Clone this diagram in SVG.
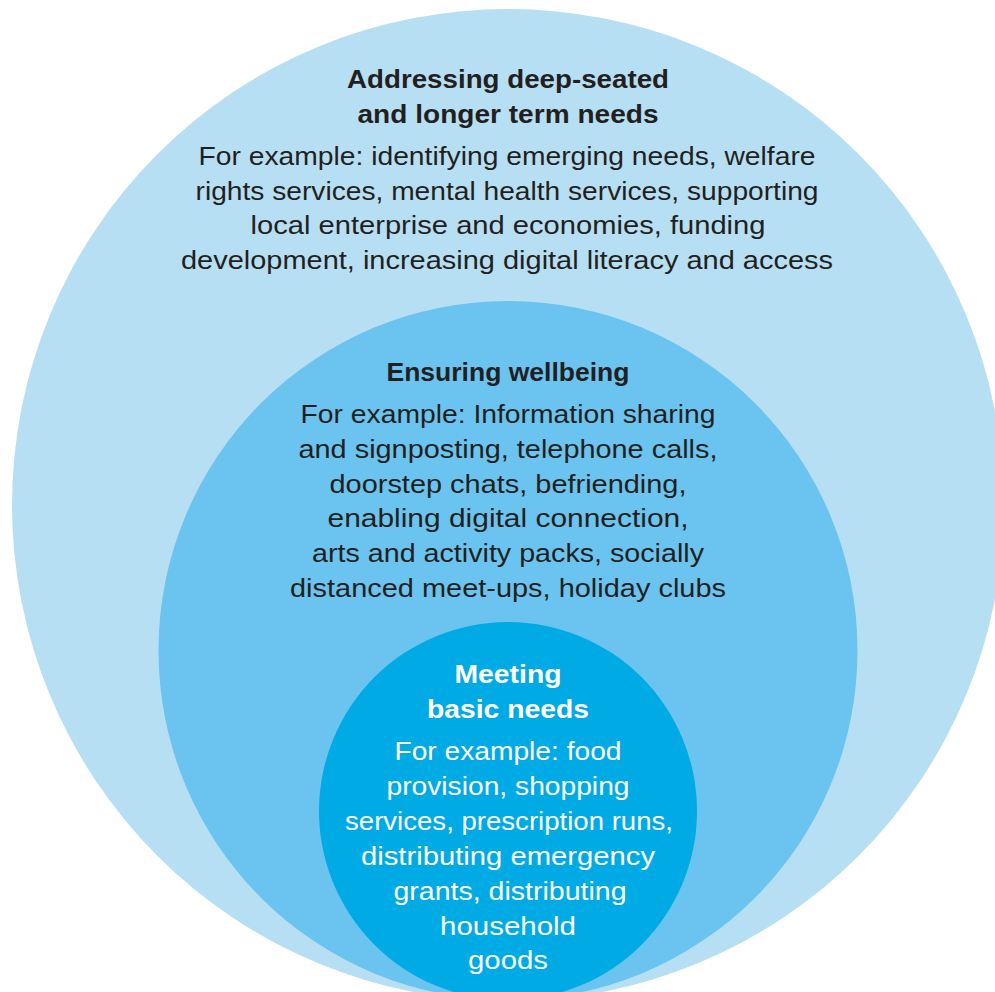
<svg xmlns="http://www.w3.org/2000/svg" width="995" height="992" viewBox="0 0 995 992">
  <style>
    .ring-outer { fill: #b7dff4; }
    .ring-mid { fill: #6ac4ef; }
    .ring-inner { fill: #00aae5; }
    text { font-family: "Liberation Sans", Arial, sans-serif; text-anchor: middle; }
    .title { font-size: 26px; font-weight: bold; }
    .body { font-size: 25px; }
    .dark { fill: #231f20; }
    .light { fill: #ffffff; }
  </style>
  <rect width="995" height="992" fill="#ffffff"/>

  <!-- Outer ring: longer term needs -->
  <g id="node-longer-term">
    <circle class="ring-outer" cx="508" cy="505" r="496"/>
    <text class="title dark" x="508" y="88" textLength="322" lengthAdjust="spacingAndGlyphs">Addressing deep-seated</text>
    <text class="title dark" x="508" y="123" textLength="301" lengthAdjust="spacingAndGlyphs">and longer term needs</text>
    <text class="body dark" x="507" y="165" textLength="617" lengthAdjust="spacingAndGlyphs">For example: identifying emerging needs, welfare</text>
    <text class="body dark" x="507" y="199.5" textLength="623" lengthAdjust="spacingAndGlyphs">rights services, mental health services, supporting</text>
    <text class="body dark" x="508" y="234" textLength="515" lengthAdjust="spacingAndGlyphs">local enterprise and economies, funding</text>
    <text class="body dark" x="507" y="268.5" textLength="652" lengthAdjust="spacingAndGlyphs">development, increasing digital literacy and access</text>
  </g>

  <!-- Middle ring: wellbeing -->
  <g id="node-wellbeing">
    <circle class="ring-mid" cx="508" cy="650.5" r="349.5"/>
    <text class="title dark" x="508" y="380.5" textLength="243" lengthAdjust="spacingAndGlyphs">Ensuring wellbeing</text>
    <text class="body dark" x="508" y="423" textLength="415" lengthAdjust="spacingAndGlyphs">For example: Information sharing</text>
    <text class="body dark" x="508" y="458" textLength="419" lengthAdjust="spacingAndGlyphs">and signposting, telephone calls,</text>
    <text class="body dark" x="508" y="492.5" textLength="357" lengthAdjust="spacingAndGlyphs">doorstep chats, befriending,</text>
    <text class="body dark" x="508" y="527" textLength="361" lengthAdjust="spacingAndGlyphs">enabling digital connection,</text>
    <text class="body dark" x="508" y="562" textLength="392" lengthAdjust="spacingAndGlyphs">arts and activity packs, socially</text>
    <text class="body dark" x="508" y="596.5" textLength="436" lengthAdjust="spacingAndGlyphs">distanced meet-ups, holiday clubs</text>
  </g>

  <!-- Inner ring: basic needs -->
  <g id="node-basic-needs">
    <circle class="ring-inner" cx="508" cy="811" r="189"/>
    <text class="title light" x="508" y="683" textLength="107" lengthAdjust="spacingAndGlyphs">Meeting</text>
    <text class="title light" x="508" y="718" textLength="162" lengthAdjust="spacingAndGlyphs">basic needs</text>
    <text class="body light" x="508" y="760" textLength="227" lengthAdjust="spacingAndGlyphs">For example: food</text>
    <text class="body light" x="508" y="795" textLength="243" lengthAdjust="spacingAndGlyphs">provision, shopping</text>
    <text class="body light" x="509" y="830" textLength="328" lengthAdjust="spacingAndGlyphs">services, prescription runs,</text>
    <text class="body light" x="508" y="865" textLength="294" lengthAdjust="spacingAndGlyphs">distributing emergency</text>
    <text class="body light" x="510" y="900" textLength="233" lengthAdjust="spacingAndGlyphs">grants, distributing</text>
    <text class="body light" x="508" y="935" textLength="136" lengthAdjust="spacingAndGlyphs">household</text>
    <text class="body light" x="508" y="969" textLength="80" lengthAdjust="spacingAndGlyphs">goods</text>
  </g>

  <!-- No connectors in this diagram -->
  <g id="connectors"/>
</svg>
